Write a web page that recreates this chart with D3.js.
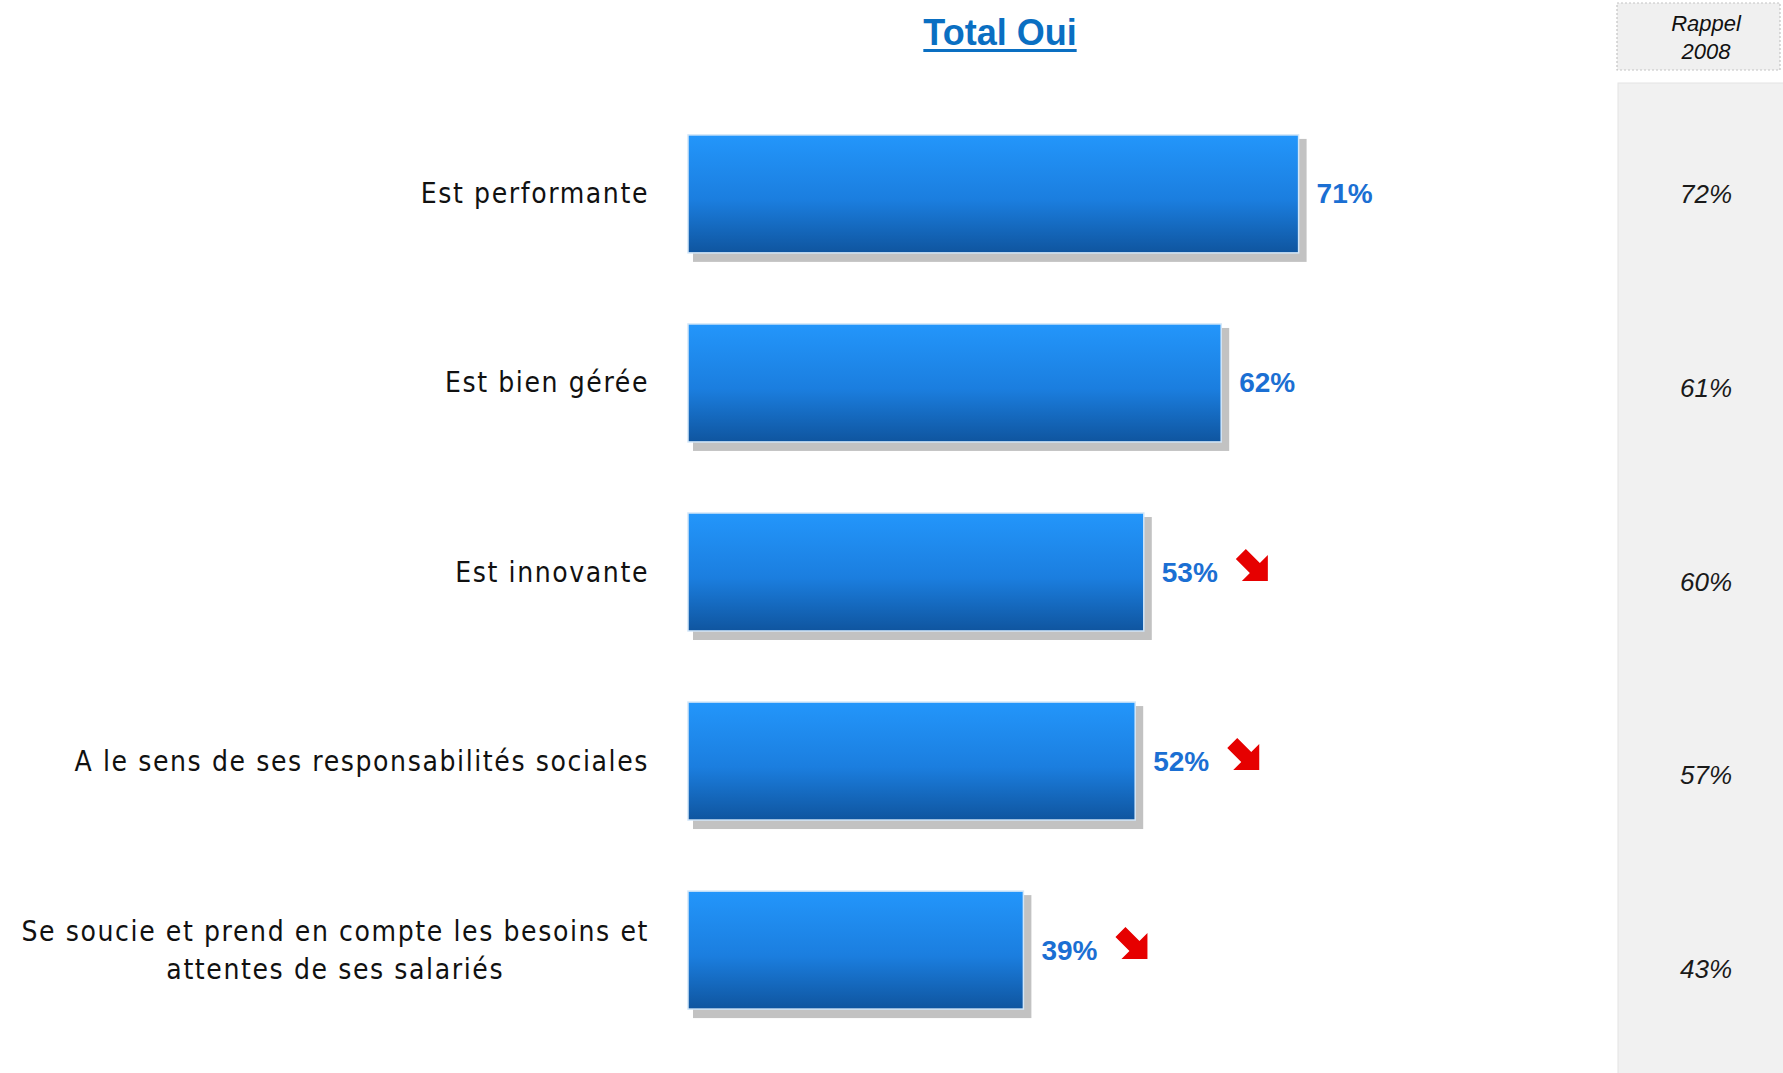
<!DOCTYPE html>
<html>
<head>
<meta charset="utf-8">
<script src="https://cdn.jsdelivr.net/npm/d3@7"></script>
<style>
  body { margin: 0; background: #fff; }
  svg { display: block; }
</style>
</head>
<body>
<div class="chart"></div>
<script>
const categories = [
  'Est performante',
  'Est bien gérée',
  'Est innovante',
  'A le  sens de ses responsabilités sociales',
  'Se soucie et prend en compte les besoins et\nattentes de ses salariés'
]
const valuesOui = [71, 62, 53, 52, 39]
const rappel2008 = [72, 61, 60, 57, 43]
const trends = [null, null, 'down', 'down', 'down']

const width = 1783
const height = 1073

const svg = d3.select('.chart')
  .append('svg')
  .attr('width', width)
  .attr('height', height)

const defs = svg.append('defs')
const grad = defs.append('linearGradient')
  .attr('id', 'barGrad')
  .attr('x1', 0).attr('y1', 0).attr('x2', 0).attr('y2', 1)
grad.append('stop').attr('offset', '0%').attr('stop-color', '#2396fb')
grad.append('stop').attr('offset', '55%').attr('stop-color', '#1b7edf')
grad.append('stop').attr('offset', '100%').attr('stop-color', '#0f559f')

const xScale = d3.scaleLinear()
  .domain([0, 100])
  .range([688, 1548])

const yScale = d3.scaleBand()
  .domain(categories)
  .range([99, 1045])
  .paddingInner(0.376)
  .paddingOuter(0.19)

const yRappel = d3.scalePoint()
  .domain(categories)
  .range([194, 969])

const rows = categories.map((c, i) => ({
  cat: c, value: valuesOui[i], rappel: rappel2008[i], trend: trends[i]
}))

// Rappel 2008 column
svg.append('rect')
  .attr('x', 1618).attr('y', 83)
  .attr('width', 166).attr('height', 995)
  .attr('fill', '#f1f1f1')
  .attr('stroke', '#e4e4e4')

svg.append('rect')
  .attr('x', 1617).attr('y', 3)
  .attr('width', 163).attr('height', 67)
  .attr('fill', '#f0f0f0')
  .attr('stroke', '#c4c4c4')
  .attr('stroke-width', 1.2)
  .attr('stroke-dasharray', '2,2')

svg.append('text')
  .attr('x', 1706).attr('y', 23)
  .attr('text-anchor', 'middle')
  .attr('dominant-baseline', 'central')
  .style('font', 'italic 22px "Liberation Sans", Arial, sans-serif')
  .attr('fill', '#111')
  .text('Rappel')
svg.append('text')
  .attr('x', 1706).attr('y', 51)
  .attr('text-anchor', 'middle')
  .attr('dominant-baseline', 'central')
  .style('font', 'italic 22px "Liberation Sans", Arial, sans-serif')
  .attr('fill', '#111')
  .text('2008')

svg.selectAll('.rappel')
  .data(rows)
  .enter()
  .append('text')
  .attr('class', 'rappel')
  .attr('x', 1706)
  .attr('y', d => yRappel(d.cat))
  .attr('text-anchor', 'middle')
  .attr('dominant-baseline', 'central')
  .style('font', 'italic 26px "Liberation Sans", Arial, sans-serif')
  .attr('fill', '#1a1a1a')
  .text(d => d.rappel + '%')

// title
const title = svg.append('text')
  .attr('x', 1000).attr('y', 45)
  .attr('text-anchor', 'middle')
  .style('font', 'bold 36px "Liberation Sans", Arial, sans-serif')
  .attr('fill', '#0a6fc2')
  .text('Total Oui')
const tw = title.node().getComputedTextLength()
svg.append('rect')
  .attr('x', 1000 - tw / 2).attr('y', 49)
  .attr('width', tw).attr('height', 3)
  .attr('fill', '#0a6fc2')

// bar shadows
svg.selectAll('.shadow')
  .data(rows)
  .enter()
  .append('rect')
  .attr('class', 'shadow')
  .attr('x', xScale(0) + 5)
  .attr('y', d => yScale(d.cat) + 4)
  .attr('width', d => xScale(d.value) - xScale(0) + 3)
  .attr('height', yScale.bandwidth() + 5)
  .attr('fill', '#c2c2c2')

// bars
svg.selectAll('.bar')
  .data(rows)
  .enter()
  .append('rect')
  .attr('class', 'bar')
  .attr('x', xScale(0))
  .attr('y', d => yScale(d.cat))
  .attr('width', d => xScale(d.value) - xScale(0))
  .attr('height', yScale.bandwidth())
  .attr('fill', 'url(#barGrad)')
  .attr('stroke', '#d2e6f8')
  .attr('stroke-width', 1.5)

// category labels (multi-line labels are centred within their block)
const labelRight = 649
const labels = svg.selectAll('.cat')
  .data(rows)
  .enter()
  .append('text')
  .attr('class', 'cat')
  .style('font', '28px "Liberation Sans Narrow", "DejaVu Sans Condensed", sans-serif')
  .style('letter-spacing', '1.6px')
  .attr('fill', '#111')
labels.each(function(d) {
  const lines = d.cat.split('\n')
  const cy = yScale(d.cat) + yScale.bandwidth() / 2
  const lh = 38
  const g = d3.select(this)
  const spans = lines.map((ln, j) => g.append('tspan')
    .attr('y', cy + (j - (lines.length - 1) / 2) * lh)
    .attr('dominant-baseline', 'central')
    .text(ln))
  if (lines.length === 1) {
    g.attr('text-anchor', 'end')
    spans[0].attr('x', labelRight)
  } else {
    const maxW = d3.max(spans, s => s.node().getComputedTextLength())
    g.attr('text-anchor', 'middle')
    spans.forEach(s => s.attr('x', labelRight - maxW / 2))
  }
})

// value labels
const vals = svg.selectAll('.val')
  .data(rows)
  .enter()
  .append('text')
  .attr('class', 'val')
  .attr('x', d => xScale(d.value) + 18)
  .attr('y', d => yScale(d.cat) + yScale.bandwidth() / 2)
  .attr('dominant-baseline', 'central')
  .style('font', 'bold 28px "Liberation Sans", Arial, sans-serif')
  .attr('fill', '#1b6fd3')
  .text(d => d.value + '%')

// trend arrows
const arrowPath = 'M10,0 L24,14 L32,6 L32,32 L6,32 L14,24 L0,10 Z'
vals.each(function(d) {
  if (d.trend !== 'down') return
  const endX = xScale(d.value) + 18 + this.getComputedTextLength()
  const cy = yScale(d.cat) + yScale.bandwidth() / 2
  svg.append('path')
    .attr('d', arrowPath)
    .attr('transform', `translate(${endX + 18},${cy - 23})`)
    .attr('fill', '#e60000')
})
</script>
</body>
</html>
